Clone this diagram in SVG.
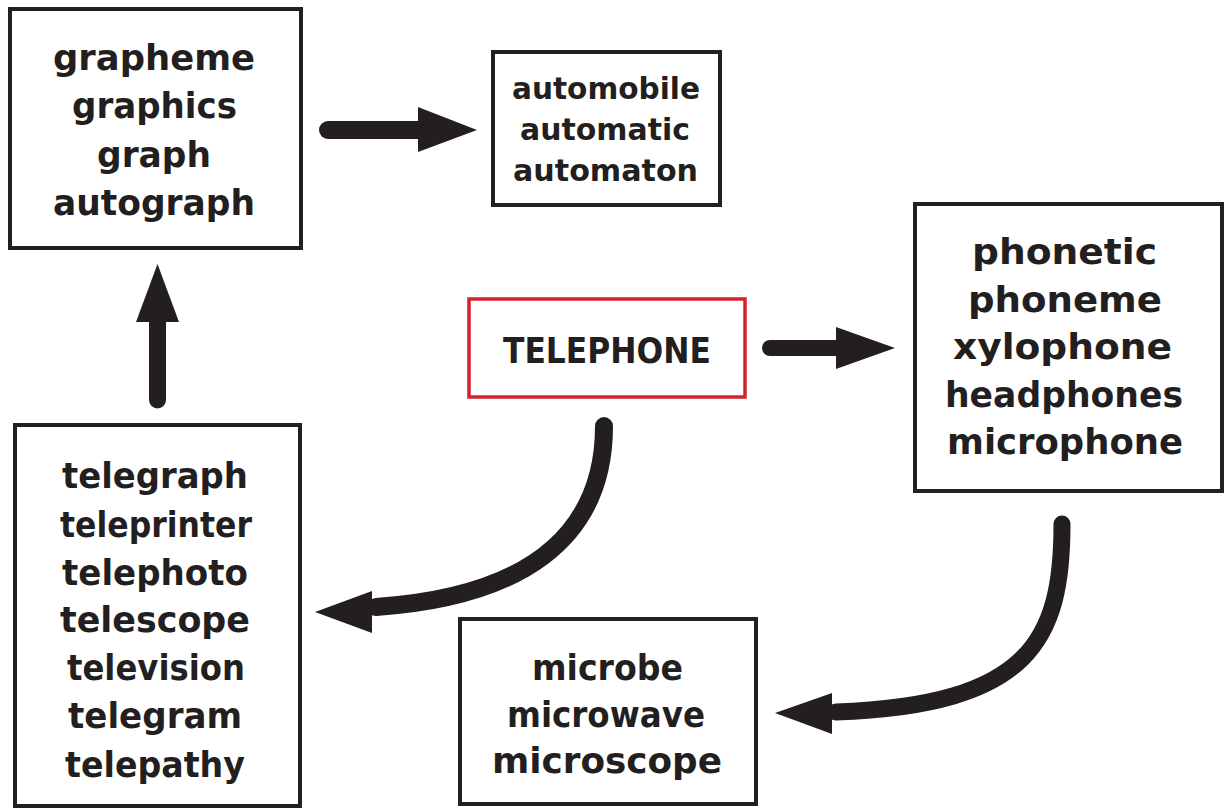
<svg xmlns="http://www.w3.org/2000/svg" width="1227" height="810" viewBox="0 0 1227 810">
<style>
.box{fill:#fff;stroke:#231f20;stroke-width:4}
.red{fill:#fff;stroke:#d2232a;stroke-width:3.5}
.t{font-family:"DejaVu Sans",sans-serif;font-weight:bold;fill:#231f20;text-anchor:middle}
.big{font-size:35px}
.mid{font-size:30px}
.shaft{fill:none;stroke:#231f20;stroke-linecap:round}
.head{fill:#231f20}
</style>
<rect width="1227" height="810" fill="#fff"/>
<g id="connectors">
<path class="shaft" d="M328 130 H422" stroke-width="18"/>
<polygon class="head" points="418,107 477,130 418,152"/>
<path class="shaft" d="M770 348 H840" stroke-width="16"/>
<polygon class="head" points="836,327 895,348 836,369"/>
<path class="shaft" d="M157.5 400 V318" stroke-width="17"/>
<polygon class="head" points="136,322 157.5,264 179,322"/>
<path class="shaft" d="M604 426 C604 540 520 597 376 607" stroke-width="18"/>
<polygon class="head" points="372,591 315,612 372,633"/>
<path class="shaft" d="M1062 524 C1062 640 1030 705 836 712" stroke-width="17"/>
<polygon class="head" points="832,693 775,713 832,734"/>
</g>
<g id="graph-box">
<rect class="box" x="10" y="9" width="291" height="239"/>
<text class="t big" x="154" y="70" textLength="202" lengthAdjust="spacingAndGlyphs">grapheme</text>
<text class="t big" x="154.5" y="118" textLength="165" lengthAdjust="spacingAndGlyphs">graphics</text>
<text class="t big" x="154" y="167" textLength="114" lengthAdjust="spacingAndGlyphs">graph</text>
<text class="t big" x="154" y="215" textLength="202" lengthAdjust="spacingAndGlyphs">autograph</text>
</g>
<g id="auto-box">
<rect class="box" x="493" y="52" width="227" height="153"/>
<text class="t mid" x="606" y="99" textLength="188" lengthAdjust="spacingAndGlyphs">automobile</text>
<text class="t mid" x="605" y="140" textLength="170" lengthAdjust="spacingAndGlyphs">automatic</text>
<text class="t mid" x="605.5" y="181" textLength="185" lengthAdjust="spacingAndGlyphs">automaton</text>
</g>
<g id="telephone-box">
<rect class="red" x="469" y="299" width="276" height="98"/>
<text class="t" x="607" y="363" font-size="36" textLength="208" lengthAdjust="spacingAndGlyphs">TELEPHONE</text>
</g>
<g id="phone-box">
<rect class="box" x="915" y="204" width="307" height="287"/>
<text class="t" font-size="35" x="1064.5" y="264" textLength="185" lengthAdjust="spacingAndGlyphs">phonetic</text>
<text class="t" font-size="35" x="1065" y="311.5" textLength="194" lengthAdjust="spacingAndGlyphs">phoneme</text>
<text class="t" font-size="35" x="1062.5" y="359" textLength="219" lengthAdjust="spacingAndGlyphs">xylophone</text>
<text class="t" font-size="35" x="1064" y="406.5" textLength="238" lengthAdjust="spacingAndGlyphs">headphones</text>
<text class="t" font-size="35" x="1065" y="454" textLength="236" lengthAdjust="spacingAndGlyphs">microphone</text>
</g>
<g id="tele-box">
<rect class="box" x="15" y="425" width="285" height="381"/>
<text class="t big" x="155" y="488" textLength="186" lengthAdjust="spacingAndGlyphs">telegraph</text>
<text class="t big" x="156" y="537" textLength="192" lengthAdjust="spacingAndGlyphs">teleprinter</text>
<text class="t big" x="155" y="585" textLength="186" lengthAdjust="spacingAndGlyphs">telephoto</text>
<text class="t big" x="155" y="632" textLength="190" lengthAdjust="spacingAndGlyphs">telescope</text>
<text class="t big" x="156" y="680" textLength="178" lengthAdjust="spacingAndGlyphs">television</text>
<text class="t big" x="155" y="728" textLength="174" lengthAdjust="spacingAndGlyphs">telegram</text>
<text class="t big" x="155" y="777" textLength="180" lengthAdjust="spacingAndGlyphs">telepathy</text>
</g>
<g id="micro-box">
<rect class="box" x="460" y="619" width="296" height="185"/>
<text class="t big" x="607.5" y="680" textLength="151" lengthAdjust="spacingAndGlyphs">microbe</text>
<text class="t big" x="606" y="727" textLength="198" lengthAdjust="spacingAndGlyphs">microwave</text>
<text class="t big" x="607" y="773" textLength="230" lengthAdjust="spacingAndGlyphs">microscope</text>
</g>
</svg>
